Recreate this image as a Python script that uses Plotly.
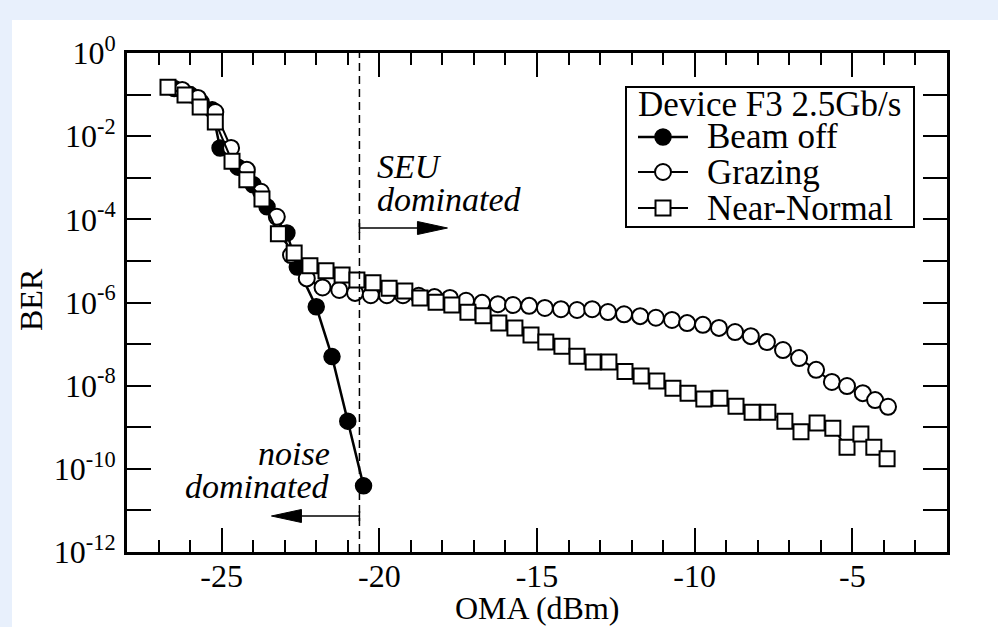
import plotly.graph_objects as go

# ---------------- data ----------------
oma_beam_off = [-26.5, -26.0, -25.65, -25.3, -25.05, -24.48, -24.0, -23.56,
                -22.93, -22.6, -22.0, -21.5, -21.0, -20.5]
ber_beam_off = [1.4e-1, 1.0e-1, 6.6e-2, 4.3e-2, 5.2e-3, 1.8e-3, 6.8e-4, 2.0e-4,
                4.7e-5, 7.1e-6, 7.9e-7, 5.0e-8, 1.4e-9, 3.9e-11]

oma_grazing = [-26.25, -25.75, -25.2, -24.7, -24.2, -23.75, -23.25, -22.8, -22.3,
               -21.8, -21.27, -20.77, -20.27, -19.76, -19.25, -18.75, -18.25,
               -17.76, -17.25, -16.74, -16.24, -15.76, -15.25, -14.75, -14.24,
               -13.73, -13.25, -12.75, -12.24, -11.73, -11.23, -10.72, -10.24,
               -9.74, -9.23, -8.72, -8.22, -7.71, -7.2, -6.69, -6.15, -5.65,
               -5.17, -4.67, -4.28, -3.87]
ber_grazing = [1.29e-1, 8.3e-2, 3.8e-2, 5.2e-3, 1.55e-3, 4.6e-4, 1.15e-4, 1.38e-5,
               3.8e-6, 2.3e-6, 2.0e-6, 1.7e-6, 1.5e-6, 1.5e-6, 1.5e-6, 1.45e-6,
               1.35e-6, 1.29e-6, 1.1e-6, 9.8e-7, 9.1e-7, 8.7e-7, 8.3e-7, 7.4e-7,
               6.9e-7, 6.6e-7, 6.9e-7, 5.9e-7, 5.2e-7, 4.7e-7, 4.3e-7, 3.8e-7,
               3.2e-7, 2.9e-7, 2.45e-7, 1.95e-7, 1.55e-7, 1.12e-7, 7.2e-8, 4.6e-8,
               2.4e-8, 1.23e-8, 9.8e-9, 6.6e-9, 4.5e-9, 3.1e-9]

oma_near_normal = [-26.7, -26.16, -25.68, -25.2, -24.67, -24.2, -23.72, -23.2,
                   -22.7, -22.2, -21.69, -21.18, -20.71, -20.2, -19.69, -19.19,
                   -18.71, -18.2, -17.7, -17.19, -16.71, -16.21, -15.7, -15.19,
                   -14.72, -14.21, -13.73, -13.22, -12.72, -12.21, -11.7, -11.2,
                   -10.69, -10.21, -9.71, -9.2, -8.69, -8.18, -7.68, -7.14, -6.63,
                   -6.12, -5.62, -5.17, -4.73, -4.32, -3.9]
ber_near_normal = [1.5e-1, 9.8e-2, 5.0e-2, 2.2e-2, 2.5e-3, 8.9e-4, 3.1e-4, 4.5e-5,
                   1.55e-5, 7.6e-6, 5.8e-6, 4.6e-6, 3.5e-6, 3.0e-6, 2.2e-6, 1.9e-6,
                   1.29e-6, 1.02e-6, 8.7e-7, 5.8e-7, 4.8e-7, 3.2e-7, 2.45e-7,
                   1.66e-7, 1.12e-7, 8.9e-8, 5.1e-8, 3.7e-8, 3.7e-8, 2.2e-8, 1.7e-8,
                   1.29e-8, 8.7e-9, 6.6e-9, 4.8e-9, 5.0e-9, 3.2e-9, 2.3e-9, 2.3e-9,
                   1.4e-9, 7.8e-10, 1.26e-9, 9.5e-10, 3.3e-10, 6.9e-10, 3.3e-10,
                   1.74e-10]

series_names = ["Beam off", "Grazing", "Near-Normal"]
legend_title = "Device F3 2.5Gb/s"

x_ticks = [-25, -20, -15, -10, -5]
y_tick_exps = list(range(0, -13, -1))
threshold_oma = -20.63          # dashed boundary between regimes

FONT = "Liberation Serif"
FS_TICK = 32
FS_TEXT = 34
FS_LEG = 35

# plot-area geometry (pixels in the 998x627 page)
L, R, T, B = 127, 947, 53, 552
PW, PH = R - L, B - T
xlo, xhi = -28, -2
ylo, yhi = -12, 0
PX_X = PW / (xhi - xlo)     # px per dBm

def fx(px):   # page px -> paper x
    return (px - L) / PW

def fy(py):   # page px -> paper y
    return (B - py) / PH

styles = [
    dict(line=dict(color="black", width=2.5),
         marker=dict(symbol="circle", size=16, color="black", line=dict(color="black", width=1.5))),
    dict(line=dict(color="black", width=2),
         marker=dict(symbol="circle", size=16, color="white", line=dict(color="black", width=2))),
    dict(line=dict(color="black", width=2),
         marker=dict(symbol="square", size=15, color="white", line=dict(color="black", width=2))),
]
xs = [oma_beam_off, oma_grazing, oma_near_normal]
ys = [ber_beam_off, ber_grazing, ber_near_normal]

fig = go.Figure()
for name, x, y, st in zip(series_names, xs, ys, styles):
    fig.add_trace(go.Scatter(x=x, y=y, name=name, mode="lines+markers",
                             showlegend=False, **st))

shapes = []
# white page panel (light blue border at top/left like the reference)
shapes.append(dict(type="rect", xref="paper", yref="paper",
                   x0=fx(12), x1=fx(1000), y0=fy(630), y1=fy(20),
                   fillcolor="white", line=dict(width=0), layer="below"))
# dashed threshold
shapes.append(dict(type="line", xref="x", yref="paper", x0=threshold_oma, x1=threshold_oma,
                   y0=0, y1=1, line=dict(color="black", width=1.5, dash="8px,5px")))

def arrow(py, direction):
    y = fy(py)
    tip = threshold_oma + direction * 88 / PX_X
    base = tip - direction * 30 / PX_X
    hw = 6.5 / PH
    return [dict(type="line", xref="x", yref="paper", x0=threshold_oma, x1=base,
                 y0=y, y1=y, line=dict(color="black", width=1.5)),
            dict(type="line", xref="x", yref="paper", x0=threshold_oma, x1=threshold_oma,
                 y0=y - 5 / PH, y1=y + 5 / PH, line=dict(color="black", width=1.5)),
            dict(type="path", xref="x", yref="paper",
                 path=f"M {base},{y - hw} L {tip},{y} L {base},{y + hw} Z",
                 fillcolor="black", line=dict(color="black", width=1))]

shapes += arrow(228, +1)
shapes += arrow(516, -1)

# ---- hand-drawn legend box (to match the reference spacing) ----
LEG_L, LEG_R, LEG_T, LEG_B = 626, 914, 87, 227
shapes.append(dict(type="rect", xref="paper", yref="paper",
                   x0=fx(LEG_L), x1=fx(LEG_R), y0=fy(LEG_B), y1=fy(LEG_T),
                   fillcolor="white", line=dict(color="black", width=2)))
row_py = [137, 172, 208]
sym_l, sym_r, sym_c, text_l = 638, 688, 663, 705
for i, st in enumerate(styles):
    py = row_py[i]
    shapes.append(dict(type="line", xref="paper", yref="paper",
                       x0=fx(sym_l), x1=fx(sym_r), y0=fy(py), y1=fy(py),
                       line=dict(color="black", width=st["line"]["width"])))
    r = st["marker"]["size"] / 2
    shp = "circle" if st["marker"]["symbol"] == "circle" else "rect"
    shapes.append(dict(type=shp, xref="paper", yref="paper",
                       x0=fx(sym_c - r), x1=fx(sym_c + r), y0=fy(py + r), y1=fy(py - r),
                       fillcolor=st["marker"]["color"],
                       line=dict(color="black", width=st["marker"]["line"]["width"])))

annotations = []
def txt(text, px, py, xanchor, size, italic=False, angle=0):
    annotations.append(dict(x=fx(px), y=fy(py), xref="paper", yref="paper", text=text,
                            showarrow=False, xanchor=xanchor, yanchor="middle",
                            textangle=angle,
                            font=dict(family=FONT, size=size, color="black",
                                      style="italic" if italic else "normal")))

txt(legend_title, 636, 104, "left", FS_LEG)
for i, name in enumerate(series_names):
    txt(name, text_l, row_py[i], "left", FS_LEG)

thr_px = L + (threshold_oma - xlo) * PX_X
txt("SEU", thr_px + 16, 166, "left", FS_TEXT, italic=True)
txt("dominated", thr_px + 16, 200, "left", FS_TEXT, italic=True)
txt("noise", thr_px - 27, 453, "right", FS_TEXT, italic=True)
txt("dominated", thr_px - 27, 486, "right", FS_TEXT, italic=True)

# axis titles
txt("OMA (dBm)", (L + R) / 2, 608, "center", FS_TICK)
txt("BER", 31, 300, "center", FS_TICK, angle=-90)

y_tickvals = [10.0 ** e for e in y_tick_exps]
y_ticktext = [f"10<sup>{e}</sup>" if e % 2 == 0 else "" for e in y_tick_exps]

fig.update_layout(
    width=998, height=627,
    margin=dict(l=L, r=998 - R, t=T, b=627 - B),
    paper_bgcolor="#e8f0fc", plot_bgcolor="white",
    font=dict(family=FONT, size=FS_TICK, color="black"),
    shapes=shapes, annotations=annotations,
    showlegend=False,
    xaxis=dict(
        range=[xlo, xhi], tickvals=x_ticks, ticktext=[str(v) for v in x_ticks],
        ticks="inside", ticklen=24, tickwidth=2,
        tickcolor="black", showline=True, linewidth=3, linecolor="black", mirror="ticks",
        showgrid=False, zeroline=False,
        minor=dict(dtick=1, tick0=xlo, ticks="inside", ticklen=12, tickwidth=2,
                   tickcolor="black", showgrid=False),
        tickfont=dict(family=FONT, size=FS_TICK), ticklabelstandoff=-6,
    ),
    yaxis=dict(
        type="log", range=[ylo, yhi], tickvals=y_tickvals, ticktext=y_ticktext,
        ticks="inside", ticklen=24, tickwidth=2, tickcolor="black",
        showline=True, linewidth=3, linecolor="black", mirror="ticks",
        showgrid=False, zeroline=False,
        tickfont=dict(family=FONT, size=FS_TICK), ticklabelstandoff=2,
    ),
)

fig.write_html("out.html", config={"displayModeBar": False},
               post_script="document.body.style.margin='0';")
